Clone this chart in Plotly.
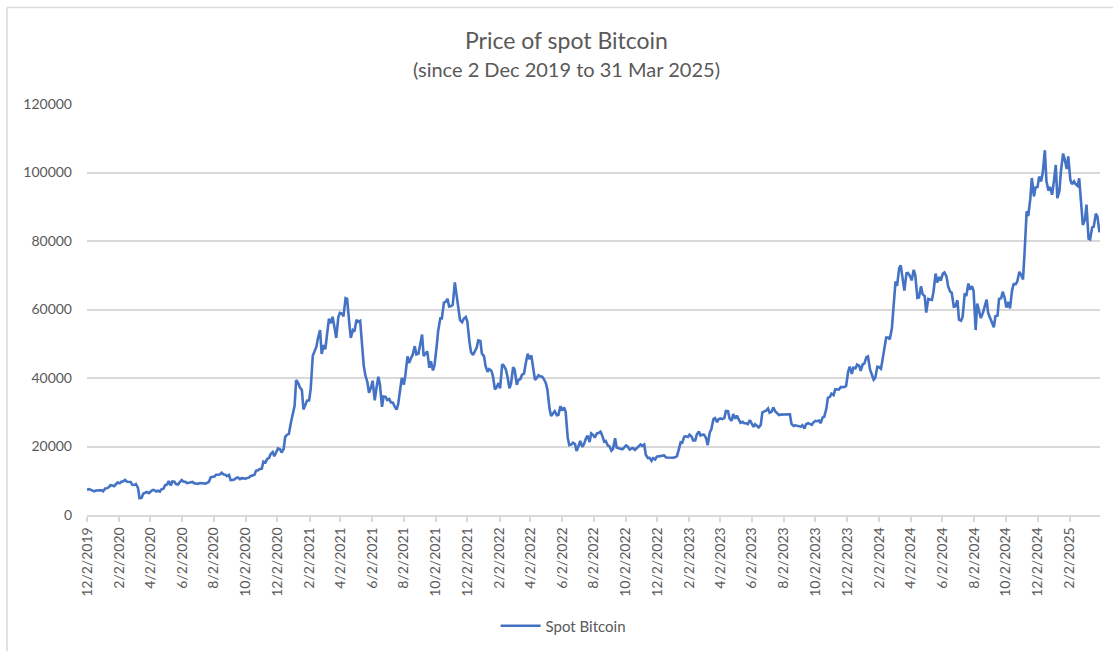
import pandas as pd
import plotly.graph_objects as go

# Spot Bitcoin prices (USD).
# Monday values, starting Monday 2 Dec 2019 (one per week)
v2019 = [7300, 7350, 6900, 7300, 7200]
v2020 = [7750, 8100, 8600, 9050,
         9300, 9850, 9700, 9650,
         8750, 7900, 5000, 6400, 6400,
         7300, 6850, 6850, 7700,
         8900, 8600, 9700, 8900,
         10200, 9700, 9450, 9650, 9150,
         9350, 9250, 9400, 11050,
         11200, 11900, 12300, 11750, 11700,
         10250, 10800, 10450, 10700,
         10800, 11400, 11750, 13050,
         13550, 15300, 16700, 18400, 18800,
         19200, 19300, 23500, 27000]
v2021 = [31900, 38500, 36500, 32300,
         33500, 46500, 49200, 54000,
         49600, 54800, 56000, 54500, 57700,
         58800, 63300, 56200, 54000,
         57000, 56700, 43500, 38700, 37300,
         33500, 40400, 31600, 34500,
         33900, 32800, 30800, 37200,
         38100, 46300, 45900, 49300, 47100,
         52700, 47100, 43000, 42200,
         49200, 57400, 62000, 63100,
         61000, 67900, 60100, 56300, 57800,
         50600, 46700, 48900, 50800]
v2022 = [46400, 41800, 42200, 36700, 38500,
         44000, 42500, 37000, 43200,
         38000, 39700, 41300, 47100,
         46600, 39500, 40800, 40400,
         38500, 31000, 29800, 29100, 31800,
         31400, 22500, 20600, 20700,
         20200, 19900, 22400, 21300,
         23300, 23800, 24300, 21400, 20300,
         18800, 22400, 19500, 19200,
         20300, 19100, 19500, 19600, 20600,
         20600, 16600, 15800, 16200,
         17100, 17200, 16800, 16700]
v2023 = [16700, 17200, 21200, 22900, 22800,
         22900, 21800, 24400, 23500,
         22400, 24100, 28000, 27100,
         28200, 28300, 30300, 27500,
         28100, 27700, 27200, 26800, 27700,
         25700, 25900, 26300, 30300,
         31100, 30200, 30200, 29200, 29300,
         29200, 29400, 26000, 26100,
         25800, 25200, 26800, 26300,
         27500, 27600, 28500, 31000, 34500,
         35000, 36600, 37400, 37400,
         41900, 41200, 42800, 43600]
v2024 = [44000, 46100, 42500, 39500, 43300,
         42700, 49900, 51800, 54500,
         68200, 72100, 67600, 70600,
         69700, 71600, 63400, 66800, 63900,
         63100, 62800, 70500, 69500,
         70500, 69600, 65200, 60800,
         62700, 56700, 64700, 67600, 66800,
         54000, 59300, 59000, 62900,
         57500, 54800, 58200, 63300, 63300,
         62200, 65600, 67400, 71000,
         68800, 88700, 92200, 93000,
         95800, 97400, 106500, 94700, 93500]
v2025 = [102200, 94600, 105500, 101000,
         97800, 97400, 96100, 91500,
         86200, 80700, 84000, 88000, 82500]

# Thursday values, starting Thursday 5 Dec 2019 (one per week)
m2019 = [7550, 7200, 7150, 7200, 6950]
m2020 = [7800, 8700, 8400, 9500,
         9750, 10250, 9600, 8800,
         9050, 4900, 6200, 6750, 6800,
         7300, 7100, 7500, 8650,
         9950, 9800, 9050, 9550,
         9800, 9300, 9400, 9250, 9100,
         9250, 9150, 9600, 11100,
         11750, 11800, 11850, 11350, 10200,
         10350, 10950, 10750, 10600,
         10900, 11500, 12950, 13450,
         15600, 16300, 17800, 17150, 19450,
         18250, 22800, 23700, 29000]
m2021 = [39400, 37300, 30800, 33400,
         36900, 47900, 51700, 47000,
         48400, 57300, 57900, 51700, 59000,
         58000, 63100, 51700, 53600,
         56400, 49700, 40800, 35700, 39200,
         36700, 38100, 34600, 33600,
         32900, 31800, 32300, 40000,
         40900, 44400, 46800, 46900, 49900,
         46400, 47800, 44900, 43800,
         53800, 57400, 62200, 60900,
         61400, 64900, 56900, 57300, 56500,
         47600, 47600, 51000, 47100]
m2022 = [43500, 42600, 40700, 37200, 37000,
         43600, 40500, 38300, 42400,
         39400, 40900, 44000, 45500,
         43500, 39900, 40500, 39700,
         36500, 28900, 30300, 29200, 30500,
         30100, 20400, 21100, 18700,
         21600, 20600, 23200, 23800,
         22600, 23900, 23300, 21600, 20100,
         19300, 19700, 19400, 19600,
         20000, 19400, 19000, 20300, 20200,
         17600, 16700, 16600, 17000,
         17200, 17400, 16800, 16600]
m2023 = [16850, 18850, 21100, 23000, 23450,
         21800, 23500, 23200, 23450,
         20400, 25000, 28300, 28000,
         28000, 30400, 28200, 29500,
         29000, 26900, 26800, 26500, 27000,
         26500, 25600, 29900, 30400,
         29900, 31400, 29800, 29300, 29200,
         29400, 26600, 26200, 25900,
         26200, 26500, 26600, 27000,
         27400, 26800, 28700, 34200, 35400,
         36700, 36600, 37300, 37700,
         43300, 43000, 43900, 42100]
m2024 = [44200, 46300, 41300, 40000, 43200,
         45300, 51800, 51300, 61200,
         66900, 72900, 65500, 70700,
         68500, 70000, 63500, 64500, 59100,
         63000, 65200, 67900, 68400,
         70800, 66800, 64900, 60900,
         57000, 57900, 63900, 65800, 65400,
         61700, 57500, 60400, 59000,
         56200, 58100, 63100, 65200, 60600,
         60300, 67400, 68200, 70200,
         76500, 87300, 98400, 95600,
         98800, 100000, 97500, 95800, 96900]
m2025 = [92500, 100500, 104000, 104700,
         96600, 96600, 98300, 84700,
         90600, 80500, 84200, 87200]

mon = v2019 + v2020 + v2021 + v2022 + v2023 + v2024 + v2025
thu = m2019 + m2020 + m2021 + m2022 + m2023 + m2024 + m2025
s = pd.concat([
    pd.Series(mon, index=pd.date_range("2019-12-02", periods=len(mon), freq="7D")),
    pd.Series(thu, index=pd.date_range("2019-12-05", periods=len(thu), freq="7D")),
]).sort_index()

tick_dates = pd.date_range("2019-12-01", "2025-02-01", freq="2MS") + pd.Timedelta(days=1)
tick_text = [f"{d.month}/{d.day}/{d.year}" for d in tick_dates]
y_ticks = [0, 20000, 40000, 60000, 80000, 100000, 120000]

TXT = "#595959"
GRID = "#d9d9d9"
FONT = "Lato"

fig = go.Figure()
fig.add_trace(go.Scatter(
    x=s.index, y=s.values, mode="lines", name="Spot Bitcoin",
    line=dict(color="#4472C4", width=2.6),
))

fig.update_layout(
    width=1113, height=654,
    margin=dict(l=87, r=13, t=104, b=137),
    paper_bgcolor="white", plot_bgcolor="white",
    font=dict(family=FONT, color=TXT, size=14),
    showlegend=True,
    legend=dict(orientation="h", x=0.47, xanchor="center", y=-0.27, yanchor="middle",
                font=dict(size=15, color=TXT), itemwidth=40),
    annotations=[
        dict(text="Price of spot Bitcoin", xref="paper", yref="paper",
             x=0.473, y=1.0 + (104 - 40) / 413, xanchor="center", yanchor="middle",
             showarrow=False, font=dict(size=23, color=TXT, family=FONT)),
        dict(text="(since 2 Dec 2019 to 31 Mar 2025)", xref="paper", yref="paper",
             x=0.473, y=1.0 + (104 - 69) / 413, xanchor="center", yanchor="middle",
             showarrow=False, font=dict(size=20, color=TXT, family=FONT)),
    ],
    shapes=[
        dict(type="line", xref="paper", yref="paper",
             x0=(7 - 87) / 1013, x1=(7 - 87) / 1013,
             y0=-(654 - 517) / 413, y1=1 + (104 - 7) / 413,
             line=dict(color=GRID, width=1.5)),
        dict(type="line", xref="paper", yref="paper",
             x0=(7 - 87) / 1013, x1=1 + 13 / 1013,
             y0=1 + (104 - 7) / 413, y1=1 + (104 - 7) / 413,
             line=dict(color=GRID, width=1.5)),
    ],
)

fig.update_xaxes(
    type="date", range=["2019-12-02", "2025-04-01"],
    tickmode="array", tickvals=list(tick_dates), ticktext=tick_text,
    tickangle=-90, tickfont=dict(size=14, color=TXT),
    showgrid=False, showline=True, linecolor=GRID, linewidth=1.5,
    ticks="outside", ticklen=5, tickcolor=GRID, tickwidth=1.5,
    zeroline=False,
)
fig.update_yaxes(
    range=[0, 120000], tickmode="array", tickvals=y_ticks,
    ticktext=[str(v) for v in y_ticks],
    tickfont=dict(size=14, color=TXT),
    showgrid=True, gridcolor=GRID, gridwidth=1.5,
    showline=False, zeroline=False, ticks="", ticklabelstandoff=14,
)

fig.write_html("out.html", config={"displayModeBar": False},
               post_script="document.body.style.margin='0';document.body.style.overflow='hidden';")
